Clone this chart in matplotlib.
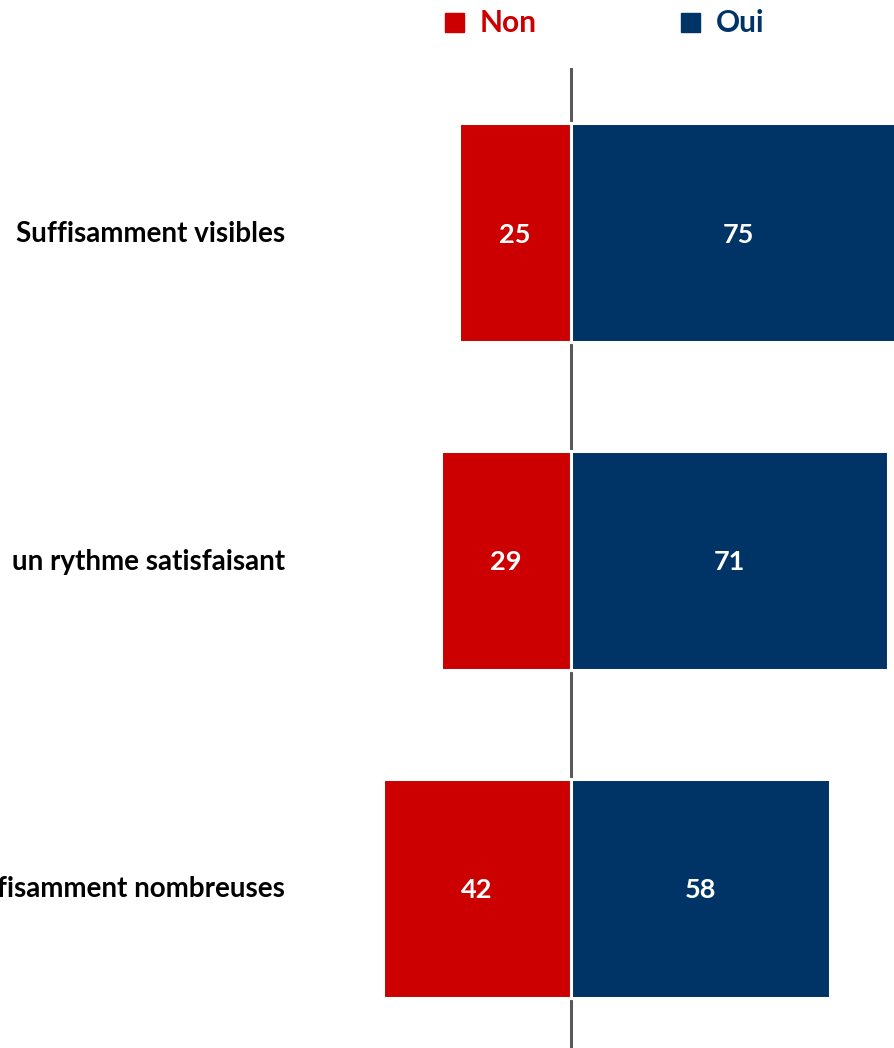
import matplotlib.pyplot as plt
from matplotlib.patches import Rectangle

plt.rcParams['font.family'] = ['Lato', 'DejaVu Sans']

# données
categories = ['Suffisamment visibles', 'un rythme satisfaisant', 'Suffisamment nombreuses']
non_vals = [25, 29, 42]
oui_vals = [75, 71, 58]
series = ['Non', 'Oui']

rouge = '#CC0000'
bleu = '#003366'
gris = '#595959'

W, H = 894, 1048
fig = plt.figure(figsize=(W / 100, H / 100), dpi=100)
# l'axe occupe toute la largeur, le haut commence sous la légende
ax = fig.add_axes([0, 0, 1, 1 - 68 / H])

px = 4.47  # pixels par point de %
ax.set_xlim(-570.5 / px, (W - 570.5) / px)
ax.set_ylim(2.486, -0.503)
ax.axis('off')

# trait vertical derrière les barres
ax.axvline(0, color=gris, lw=2.2, zorder=1)

ypos = list(range(len(categories)))
h = 0.668
ax.barh(ypos, [-v for v in non_vals], height=h, color=rouge, edgecolor='white', linewidth=2.2, zorder=2)
ax.barh(ypos, oui_vals, height=h, color=bleu, edgecolor='white', linewidth=2.2, zorder=2)

for y, n, o in zip(ypos, non_vals, oui_vals):
    ax.text(-n / 2, y + 0.005, str(n), color='white', fontsize=19.5, fontweight='bold',
            ha='center', va='center', zorder=3)
    ax.text(o / 2, y + 0.005, str(o), color='white', fontsize=19.5, fontweight='bold',
            ha='center', va='center', zorder=3)

for y, lab in zip(ypos, categories):
    fig.text(285 / W, 1 - (234 + 327.7 * y) / H, lab, fontsize=20, fontweight='bold',
             ha='right', va='center', color='black')

# légende (carrés + textes)
for x0, lab, c in zip([445, 681], series, [rouge, bleu]):
    fig.add_artist(Rectangle((x0 / W, 1 - 32 / H), 19 / W, 19 / H, color=c,
                             transform=fig.transFigure))
    fig.text((x0 + 35) / W, 1 - 23 / H, lab, color=c, fontsize=21.5, fontweight='bold',
             ha='left', va='center')

fig.savefig('out.png', dpi=100)
